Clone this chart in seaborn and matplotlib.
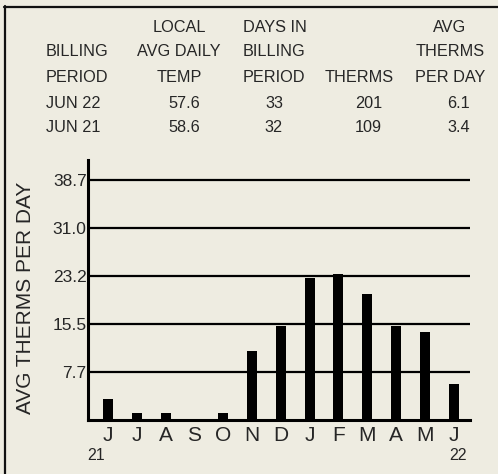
import matplotlib
matplotlib.use("Agg")
import matplotlib.pyplot as plt
import seaborn as sns
import pandas as pd
from matplotlib.lines import Line2D

# ---- data ----
periods = ["JUN 21", "JUL 21", "AUG 21", "SEP 21", "OCT 21", "NOV 21", "DEC 21",
           "JAN 22", "FEB 22", "MAR 22", "APR 22", "MAY 22", "JUN 22"]
month_labels = ["J", "J", "A", "S", "O", "N", "D", "J", "F", "M", "A", "M", "J"]
avg_therms = [3.3, 1.0, 1.0, 0.0, 1.0, 11.0, 15.1, 22.9, 23.5, 20.3, 15.1, 14.1, 5.7]
y_ticks = [7.7, 15.5, 23.2, 31.0, 38.7]
year_labels = ["21", "22"]

table_header = [["", "LOCAL", "DAYS IN", "", "AVG"],
                ["BILLING", "AVG DAILY", "BILLING", "", "THERMS"],
                ["PERIOD", "TEMP", "PERIOD", "THERMS", "PER DAY"]]
table_rows = [["JUN 22", "57.6", "33", "201", "6.1"],
              ["JUN 21", "58.6", "32", "109", "3.4"]]

BG = "#EEECE1"
W, H = 498, 474

sns.set_theme(style="white")
plt.rcParams["font.family"] = ["Liberation Sans", "DejaVu Sans"]

fig = plt.figure(figsize=(W / 100, H / 100), dpi=100, facecolor=BG)

def fx(px):
    return px / W

def fy(py):
    return 1 - py / H

# frame
fig.add_artist(Line2D([fx(5), fx(5)], [fy(6), fy(H + 5)], color="#111111", lw=1.6,
                      transform=fig.transFigure))
fig.add_artist(Line2D([fx(4), fx(W + 5)], [fy(6.5), fy(6.5)], color="#111111", lw=1.6,
                      transform=fig.transFigure))

# table text
tfs = 11.7
hdr_y = [27.7, 52, 77]
row_y = [103, 127]
for r, row in enumerate(table_header):
    y = fy(hdr_y[r])
    if row[0]:
        fig.text(fx(46), y, row[0], ha="left", va="center", fontsize=tfs)
    if row[1]:
        fig.text(fx(179), y, row[1], ha="center", va="center", fontsize=tfs)
    if row[2]:
        fig.text(fx(243), y, row[2], ha="left", va="center", fontsize=tfs)
    if row[3]:
        fig.text(fx(359), y, row[3], ha="center", va="center", fontsize=tfs)
    if row[4]:
        fig.text(fx(450), y, row[4], ha="center", va="center", fontsize=tfs)
for r, row in enumerate(table_rows):
    y = fy(row_y[r])
    fig.text(fx(46), y, row[0], ha="left", va="center", fontsize=tfs)
    fig.text(fx(200), y, row[1], ha="right", va="center", fontsize=tfs)
    fig.text(fx(283), y, row[2], ha="right", va="center", fontsize=tfs)
    fig.text(fx(382), y, row[3], ha="right", va="center", fontsize=tfs)
    fig.text(fx(470), y, row[4], ha="right", va="center", fontsize=tfs)

# chart axes
x0, x1 = 88, 470
ytop, ybot = 160, 419.5
ax = fig.add_axes([fx(x0), fy(ybot), (x1 - x0) / W, (ybot - ytop) / H])
ax.set_facecolor(BG)

df = pd.DataFrame({"period": periods, "value": avg_therms})
sns.barplot(data=df, x="period", y="value", order=periods, color="black",
            width=0.35, saturation=1, ax=ax, zorder=3, edgecolor="black", linewidth=0)

step = 28.8
ax.set_xlim((x0 - 108) / step, (x1 - 108) / step)
scale = (ybot - 180) / 38.7
ax.set_ylim(0, (ybot - ytop) / scale)

for t in y_ticks:
    ax.axhline(t, color="black", lw=1.6, zorder=2)

ax.set_yticks(y_ticks, [f"{t:.1f}" for t in y_ticks])
ax.set_xticks(range(len(periods)), month_labels)
ax.tick_params(axis="y", length=0, pad=1, labelsize=12.5)
ax.tick_params(axis="x", length=0, pad=5, labelsize=15)

for s in ["top", "right"]:
    ax.spines[s].set_visible(False)
for s in ["left", "bottom"]:
    ax.spines[s].set_color("black")
    ax.spines[s].set_linewidth(2.2)
ax.spines["bottom"].set_zorder(4)

ax.set_xlabel("")
ax.set_ylabel("")
fig.text(fx(26), fy(298), "AVG THERMS PER DAY", rotation=90, ha="center", va="center",
         fontsize=15)

# year labels under first and last month
fig.text(fx(96), fy(456), year_labels[0], ha="center", va="center", fontsize=11.5)
fig.text(fx(458), fy(456), year_labels[1], ha="center", va="center", fontsize=11.5)

fig.savefig("out.png", dpi=100, facecolor=BG)
